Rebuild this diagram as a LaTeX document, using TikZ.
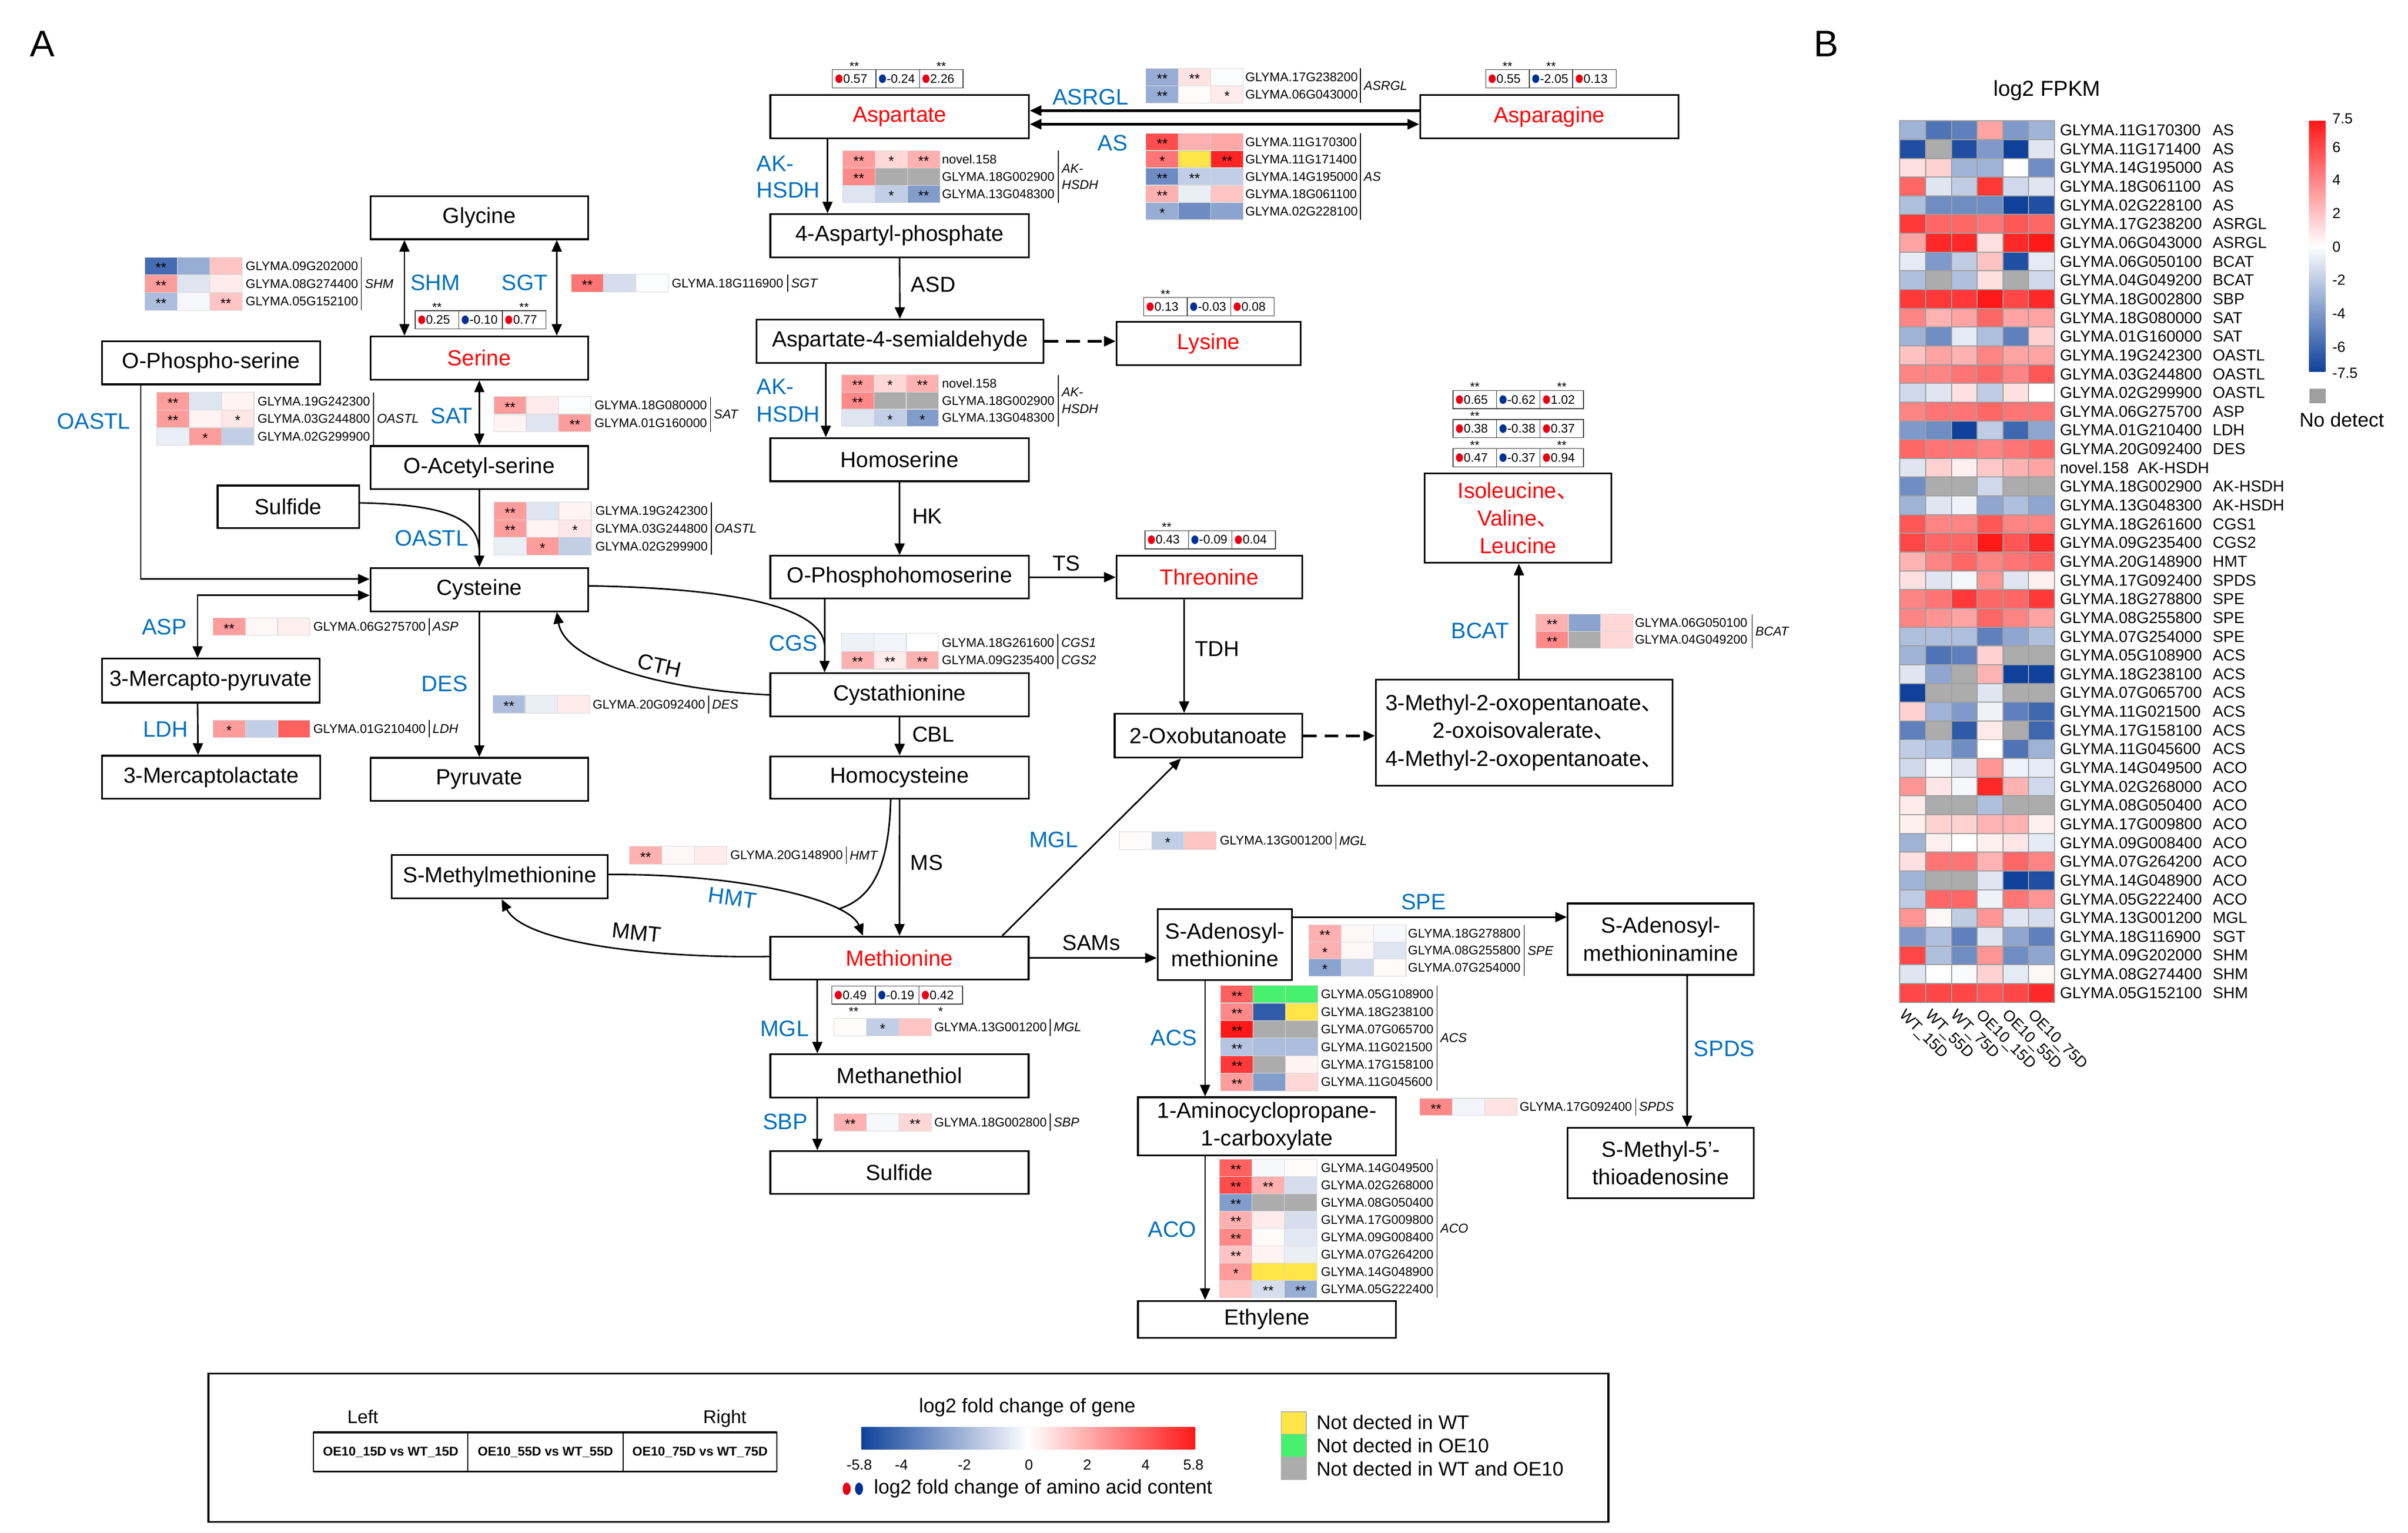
\documentclass[tikz,border=0pt]{standalone}
\usepackage{fontspec}
\setmainfont{Liberation Sans}
\newfontfamily\cjkf{Noto Sans CJK SC}
\usetikzlibrary{arrows.meta,calc}
\definecolor{hmred}{RGB}{255,25,25}
\definecolor{hmblue}{RGB}{15,65,155}
\definecolor{nagray}{RGB}{172,172,172}
\definecolor{ylw}{RGB}{255,229,72}
\definecolor{grn}{RGB}{72,240,112}
\definecolor{enz}{RGB}{0,112,192}
\definecolor{metred}{RGB}{255,0,0}
\definecolor{dotred}{RGB}{235,0,20}
\definecolor{dotblue}{RGB}{0,50,150}

\newcommand\setcol[2]{%
  \pgfmathsetmacro\hmv{#1}%
  \ifdim\hmv pt>98.5pt \def\hmcol{nagray}%
  \else\ifdim\hmv pt>97.5pt \def\hmcol{ylw}%
  \else\ifdim\hmv pt>96.5pt \def\hmcol{grn}%
  \else\ifdim\hmv pt<0pt
    \pgfmathsetmacro\hmp{min(100,-\hmv/#2*100)}\edef\hmcol{hmblue!\hmp!white}%
  \else
    \pgfmathsetmacro\hmp{min(100,\hmv/#2*100)}\edef\hmcol{hmred!\hmp!white}%
  \fi\fi\fi\fi}

\tikzset{
 met/.style={draw, line width=1.1pt, inner sep=0pt, align=center, font=\fontsize{14.2}{18}\selectfont},
 enzl/.style={text=enz, inner sep=0pt, font=\fontsize{14.5}{15}\selectfont},
 blk/.style={inner sep=0pt, font=\fontsize{14}{15}\selectfont},
 gene/.style={anchor=west, inner sep=0pt, font=\fontsize{8.15}{8.5}\selectfont},
 grp/.style={anchor=west, inner sep=0pt, align=left, font=\fontsize{8.3}{10.7}\selectfont\itshape},
 star/.style={anchor=base, inner sep=0pt, font=\fontsize{9}{9}\selectfont},
 sstar/.style={anchor=base, inner sep=0pt, font=\fontsize{8}{8}\selectfont},
 arr/.style={line width=1pt, -{Triangle[length=7.5pt,width=6.5pt]}},
 darr/.style={line width=1pt, {Triangle[length=7.5pt,width=6.5pt]}-{Triangle[length=7.5pt,width=6.5pt]}},
 dsh/.style={line width=1.6pt, dash pattern=on 9pt off 5pt, -{Triangle[length=7.5pt,width=6.5pt]}},
 hgene/.style={anchor=west, inner sep=0pt, font=\fontsize{10.3}{11}\selectfont},
}

% one mini heatmap cell: x, ytop, h, value, stars
\newcommand\hmcellm[5]{%
  \setcol{#4}{5.8}%
  \filldraw[fill=\hmcol, draw=black!15, line width=0.4pt] (#1,#2) rectangle ++(21,#3);
  \node[star] at ({#1+10.5},{#2+#3/2+4.3}) {#5};}
% mini heatmap: x, ytop, rowh, rows
\newcommand\mhm[4]{%
  \foreach \vA/\sA/\vB/\sB/\vC/\sC [count=\rr from 0] in {#4}{%
    \pgfmathsetmacro\ry{#2+#3*\rr}%
    \hmcellm{#1}{\ry}{#3}{\vA}{\sA}%
    \hmcellm{#1+21}{\ry}{#3}{\vB}{\sB}%
    \hmcellm{#1+42}{\ry}{#3}{\vC}{\sC}%
  }}
% gene labels: x, ytop, rowh, nrows, names, barx, group
\newcommand\glab[7]{%
  \foreach \gname [count=\gr from 0] in {#5}{\node[gene] at (#1,{#2+#3*\gr+#3/2}) {\gname};}%
  \draw[line width=0.5pt] (#6,#2) -- (#6,{#2+#3*#4});%
  \node[grp] at ({#6+2},{#2+#3*#4/2}) {#7};}
% amino acid value box: x, ytop, v1, v2, v3, s1, s2, s3, star baseline
\newcommand\aab[9]{%
  \foreach \aval/\acol/\astar [count=\ai from 0] in {#3/dotred/{#6},#4/dotblue/{#7},#5/dotred/{#8}}{%
    \draw[line width=0.5pt, draw=black!75] ({#1+28.2*\ai},#2) rectangle ++(28.2,11.8);
    \fill[\acol] ({#1+28.2*\ai+4.2},{#2+5.9}) circle [x radius=2.3, y radius=2.8];
    \node[anchor=west, inner sep=0pt, font=\fontsize{8}{8}\selectfont] at ({#1+28.2*\ai+6.8},{#2+5.9}) {\aval};
    \node[sstar] at ({#1+28.2*\ai+14.1},#9) {\astar};
  }}

\begin{document}
\begin{tikzpicture}[x=1pt,y=-1pt]
\useasboundingbox (0,0) rectangle (1560,993.2);

\node[inner sep=0pt, font=\fontsize{24}{24}\selectfont] (labA) at (27.6,28.5) {A};
\node[inner sep=0pt, font=\fontsize{24}{24}\selectfont] (labB) at (1183,28.5) {B};

% ---------------- metabolites ----------------
\node[met, minimum width=141pt, minimum height=28pt] (gly) at (310.5,141) {Glycine};
\node[met, minimum width=141pt, minimum height=28pt, text=metred] (ser) at (310.5,232) {Serine};
\node[met, minimum width=141.5pt, minimum height=28pt] (ops) at (136.8,235) {O-Phospho-serine};
\node[met, minimum width=141pt, minimum height=28pt] (oas) at (310.5,303) {O-Acetyl-serine};
\node[met, minimum width=91.6pt, minimum height=27.6pt] (sul1) at (186.8,328.4) {Sulfide};
\node[met, minimum width=141pt, minimum height=28pt] (cys) at (310.5,382) {Cysteine};
\node[met, minimum width=141pt, minimum height=28.5pt] (mpy) at (136.5,441) {3-Mercapto-pyruvate};
\node[met, minimum width=141.5pt, minimum height=28pt] (mlac) at (136.8,503.6) {3-Mercaptolactate};
\node[met, minimum width=141pt, minimum height=28pt] (pyr) at (310.5,505) {Pyruvate};

\node[met, minimum width=167.5pt, minimum height=28pt, text=metred] (asp) at (582.8,75.5) {Aspartate};
\node[met, minimum width=167.5pt, minimum height=28pt, text=metred] (asn) at (1003.7,75.7) {Asparagine};
\node[met, minimum width=167.5pt, minimum height=28pt] (aph) at (582.8,152.7) {4-Aspartyl-phosphate};
\node[met, minimum width=186pt, minimum height=28pt] (asa) at (583,221.1) {Aspartate-4-semialdehyde};
\node[met, minimum width=119.4pt, minimum height=28pt, text=metred] (lys) at (783,222.6) {Lysine};
\node[met, minimum width=167.5pt, minimum height=28pt] (hse) at (582.8,297.8) {Homoserine};
\node[met, minimum width=167.5pt, minimum height=27.7pt] (oph) at (582.8,374) {O-Phosphohomoserine};
\node[met, minimum width=120.2pt, minimum height=27.7pt, text=metred] (thr) at (783.4,374) {Threonine};
\node[met, minimum width=167.5pt, minimum height=28pt] (cth) at (582.8,450.2) {Cystathionine};
\node[met, minimum width=167.5pt, minimum height=27.4pt] (hcy) at (582.8,503.7) {Homocysteine};
\node[met, minimum width=121.4pt, minimum height=28.5pt] (oxb) at (782.8,476.7) {2-Oxobutanoate};
\node[met, minimum width=192.3pt, minimum height=68.7pt] (mop) at (987.5,474.6)
  {3-Methyl-2-oxopentanoate{\cjkf 、}\\2-oxoisovalerate{\cjkf 、}\\4-Methyl-2-oxopentanoate{\cjkf 、}};
\node[met, minimum width=121pt, minimum height=58pt, text=metred] (ile) at (983.5,335.7)
  {Isoleucine{\cjkf 、}\\Valine{\cjkf 、}\\Leucine};
\node[met, minimum width=140pt, minimum height=28pt] (smm) at (323.7,568.1) {S-Methylmethionine};
\node[met, minimum width=167.3pt, minimum height=27.8pt, text=metred] (met) at (582.7,620.7) {Methionine};
\node[met, minimum width=167.3pt, minimum height=27.9pt] (mth) at (582.7,697) {Methanethiol};
\node[met, minimum width=167.3pt, minimum height=27.8pt] (sul2) at (582.7,759.7) {Sulfide};
\node[met, minimum width=87.1pt, minimum height=46pt] (sam) at (793.5,612.1) {S-Adenosyl-\\methionine};
\node[met, minimum width=120.6pt, minimum height=46.3pt] (samine) at (1075.9,608.5) {S-Adenosyl-\\methioninamine};
\node[met, minimum width=167.2pt, minimum height=37.6pt] (acc) at (820.8,729.7) {1-Aminocyclopropane-\\1-carboxylate};
\node[met, minimum width=120.6pt, minimum height=45.6pt] (mta) at (1075.9,753.6) {S-Methyl-5’-\\thioadenosine};
\node[met, minimum width=167.2pt, minimum height=24pt] (eth) at (820.8,854.8) {Ethylene};

% ---------------- connectors ----------------
\draw[darr] ([xshift=-48.5pt]gly.south) -- ([xshift=-48.5pt]ser.north);
\draw[darr] ([xshift=50.2pt]gly.south) -- ([xshift=50.2pt]ser.north);
\draw[darr] (ser.south) -- (oas.north);
\draw[arr] (oas.south) -- (cys.north);
\coordinate (sulj) at (310.5,356);
\draw[line width=1pt] ([yshift=2.6pt]sul1.east) .. controls (290,327) and (309,336) .. (sulj);
\draw[arr] ([xshift=-45.6pt]ops.south) |- ([yshift=6.8pt]cys.west);
\draw[darr] ([yshift=-3.7pt]cys.west) -| ([xshift=-8.5pt]mpy.north);
\draw[arr] ([xshift=-8.5pt]mpy.south) -- ([xshift=-8.5pt]mlac.north);
\draw[arr] (cys.south) -- (pyr.north);
\draw[arr] (cth.west) .. controls (430,447) and (366,429) .. ([xshift=50.2pt]cys.south);
\coordinate (cgsj) at (534.2,418);
\draw[line width=1pt] ([yshift=2.4pt]cys.east) .. controls (470,381) and (532,392) .. (cgsj);
\draw[arr] ([xshift=-48.6pt]oph.south) -- ([xshift=-48.6pt]cth.north);
\draw[arr] ([xshift=-46.7pt]asp.south) -- ([xshift=-46.7pt]aph.north);
\draw[arr] (aph.south) -- (asa.north);
\draw[dsh] (asa.east) -- (asa.east -| lys.west);
\draw[arr] ([xshift=-48pt]asa.south) -- ([xshift=-47.8pt]hse.north);
\draw[arr] (hse.south) -- (oph.north);
\draw[arr] (oph.east) -- (thr.west);
\draw[arr] ([xshift=-16.3pt]thr.south) -- ([xshift=-15.7pt]oxb.north);
\draw[dsh] (oxb.east) -- (oxb.east -| mop.west);
\draw[arr] ([xshift=-3.5pt]mop.north) -- ([xshift=0.5pt]ile.south);
\draw[arr, line width=1.6pt] ([yshift=4pt]asn.west) -- ([yshift=4pt]asn.west -| asp.east);
\draw[darr, line width=1.6pt] ([yshift=-5pt]asp.east) -- ([yshift=-5pt]asp.east -| asn.west);
\draw[arr] (cth.south) -- (hcy.north);
\draw[arr] (hcy.south) -- (met.north);
\coordinate (hmtj) at (543,589);
\draw[line width=1pt] ([xshift=-5.8pt]hcy.south) .. controls (576,560) and (566,582) .. (hmtj);
\draw[arr] ([yshift=1.5pt]smm.east) .. controls (480,566) and (550,583) .. ([xshift=-23.7pt]met.north);
\draw[arr] ([yshift=1pt]met.west) .. controls (430,621) and (340,612) .. ([xshift=1.3pt]smm.south);
\draw[arr] ([xshift=66.6pt]met.north) -- ([xshift=-17.8pt]oxb.south);
\draw[arr] (met.east) -- (met.east -| sam.west);
\draw[arr] ([xshift=-53.2pt]met.south) -- ([xshift=-53.2pt]mth.north);
\draw[arr] ([xshift=-53.2pt]mth.south) -- ([xshift=-53.2pt]sul2.north);
\draw[arr] ([yshift=17.9pt]sam.east) -- ([yshift=17.9pt]sam.east -| samine.west);
\draw[arr] ([xshift=-12.8pt]sam.south) -- ([xshift=-40.1pt]acc.north);
\draw[arr] ([xshift=-40.1pt]acc.south) -- ([xshift=-40.1pt]eth.north);
\draw[arr] ([xshift=17.1pt]samine.south) -- ([xshift=17.1pt]mta.north);

% ---------------- enzyme labels ----------------
\node[enzl] (eSHM) at (282,183) {SHM};
\node[enzl] (eSGT) at (340,183) {SGT};
\node[enzl] (eOASTLa) at (60.7,273) {OASTL};
\node[enzl] (eSAT) at (292.6,269.5) {SAT};
\node[enzl] (eOASTLb) at (279.6,348.7) {OASTL};
\node[enzl] (eASP) at (106.4,406.3) {ASP};
\node[enzl] (eLDH) at (107.4,472.4) {LDH};
\node[enzl] (eDES) at (288,442.9) {DES};
\node[enzl] (eASRGL) at (706.4,62.7) {ASRGL};
\node[enzl] (eAS) at (720.9,92.7) {AS};
\node[enzl, anchor=west] (eAKa) at (490,105.9) {AK-};
\node[enzl, anchor=west] (eHSa) at (490,123.3) {HSDH};
\node[enzl, anchor=west] (eAKb) at (490,250.4) {AK-};
\node[enzl, anchor=west] (eHSb) at (490,268.3) {HSDH};
\node[enzl] (eCGS) at (513.8,416.8) {CGS};
\node[enzl] (eBCAT) at (958.9,408.8) {BCAT};
\node[enzl] (eMGLa) at (682.6,544) {MGL};
\node[enzl, rotate=-8] (eHMT) at (474.5,581.7) {HMT};
\node[enzl] (eMGLb) at (508.3,666.3) {MGL};
\node[enzl] (eSBP) at (508.8,726.9) {SBP};
\node[enzl] (eSPE) at (922.3,584.4) {SPE};
\node[enzl] (eACS) at (760.4,672.3) {ACS};
\node[enzl] (eACO) at (759.4,796.5) {ACO};
\node[enzl] (eSPDS) at (1117.1,679.6) {SPDS};

\node[blk] (lASD) at (604.6,184.4) {ASD};
\node[blk] (lHK) at (600.7,334.5) {HK};
\node[blk] (lTS) at (690.8,365) {TS};
\node[blk] (lTDH) at (788.6,420.4) {TDH};
\node[blk] (lCBL) at (604.6,475.9) {CBL};
\node[blk, rotate=-13] (lCTH) at (427.2,431.3) {CTH};
\node[blk] (lMS) at (600.4,558.8) {MS};
\node[blk, rotate=-6] (lMMT) at (412.5,604.3) {MMT};
\node[blk] (lSAMs) at (707,611) {SAMs};

% ---------------- mini heatmaps ----------------
\mhm{93.8}{166.7}{11.43}{-4.5/**/-2.5/{}/1.5/{}, 2.5/**/-0.8/{}/0.5/{}, -2/**/-0.2/{}/1.5/**}
\glab{159}{166.7}{11.43}{3}{GLYMA.09G202000,GLYMA.08G274400,GLYMA.05G152100}{234.2}{SHM}
\mhm{370}{177.7}{11.5}{3.5/**/-1/{}/-0.1/{}}
\glab{435}{177.7}{11.5}{1}{GLYMA.18G116900}{510.3}{SGT}
\mhm{101.5}{254.2}{11.43}{2.5/**/-0.8/{}/0.3/{}, 2.5/**/0.3/{}/0.6/*, -0.5/{}/2.5/*/-1.5/{}}
\glab{166.7}{254.2}{11.43}{3}{GLYMA.19G242300,GLYMA.03G244800,GLYMA.02G299900}{242}{OASTL}
\mhm{319.9}{256.9}{11.4}{2.5/**/0.5/{}/-0.1/{}, 0.3/{}/-0.8/{}/2.5/**}
\glab{385}{256.9}{11.4}{2}{GLYMA.18G080000,GLYMA.01G160000}{460.3}{SAT}
\mhm{320}{325.3}{11.43}{2.5/**/-0.8/{}/0.3/{}, 2.5/**/0.3/{}/0.6/*, -0.5/{}/2.5/*/-1.5/{}}
\glab{385.5}{325.3}{11.43}{3}{GLYMA.19G242300,GLYMA.03G244800,GLYMA.02G299900}{460.8}{OASTL}
\mhm{137.9}{400.4}{11.3}{2.5/**/0.2/{}/0.4/{}}
\glab{202.8}{400.4}{11.3}{1}{GLYMA.06G275700}{278.1}{ASP}
\mhm{137.9}{466.5}{11.3}{2.5/*/-1.5/{}/4/{}}
\glab{202.8}{466.5}{11.3}{1}{GLYMA.01G210400}{278.1}{LDH}
\mhm{319.2}{450.6}{11.5}{-2/**/-0.5/{}/0.5/{}}
\glab{383.8}{450.6}{11.5}{1}{GLYMA.20G092400}{459.1}{DES}
\mhm{742.4}{44.3}{11.25}{-2.5/**/0.7/**/-0.1/{}, -2.5/**/0.1/{}/0.5/*}
\glab{806.6}{44.3}{11.25}{2}{GLYMA.17G238200,GLYMA.06G043000}{881.4}{ASRGL}
\mhm{742.4}{86.3}{11.22}{4.5/**/2/{}/2.2/{}, 3.5/*/98/{}/5.5/**, -3.5/**/-1.5/**/-1.5/{}, 2/**/-0.5/{}/1.5/{}, -2.5/*/-3.5/{}/-2.8/{}}
\glab{806.6}{86.3}{11.22}{5}{GLYMA.11G170300,GLYMA.11G171400,GLYMA.14G195000,GLYMA.18G061100,GLYMA.02G228100}{881.4}{AS}
\mhm{545.9}{97.6}{11.27}{2.5/**/1/*/2/**, 3/**/99/{}/99/{}, -0.8/{}/-1.5/*/-3/**}
\glab{610.1}{97.6}{11.27}{3}{novel.158,GLYMA.18G002900,GLYMA.13G048300}{685.7}{AK-\\HSDH}
\mhm{545.1}{242.9}{11.13}{2.5/**/1/*/2/**, 3/**/99/{}/99/{}, -0.8/{}/-1.5/*/-3/*}
\glab{610.1}{242.9}{11.13}{3}{novel.158,GLYMA.18G002900,GLYMA.13G048300}{685.7}{AK-\\HSDH}
\mhm{545.1}{410.6}{11.45}{-0.4/{}/-0.3/{}/0/{}, 2/**/0.5/**/2/**}
\glab{610}{410.6}{11.45}{2}{GLYMA.18G261600,GLYMA.09G235400}{685.3}{}
\node[grp] (gCGS1) at (687.3,416.3) {CGS1};
\node[grp] (gCGS2) at (687.3,427.8) {CGS2};
\mhm{995}{398}{11}{2/**/-2.8/{}/1/{}, 3/**/99/{}/1/{}}
\glab{1059}{398}{11}{2}{GLYMA.06G050100,GLYMA.04G049200}{1135}{BCAT}
\mhm{407.8}{548.4}{11.4}{2/**/0.2/{}/0.5/{}}
\glab{473}{548.4}{11.4}{1}{GLYMA.20G148900}{548.3}{HMT}
\mhm{725}{538.9}{11.5}{0.1/{}/-1.5/*/1.5/{}}
\glab{790.1}{538.9}{11.5}{1}{GLYMA.13G001200}{865.4}{MGL}
\mhm{540.3}{659.9}{11.3}{0.1/{}/-1.5/*/1.5/{}}
\glab{605.1}{659.9}{11.3}{1}{GLYMA.13G001200}{680.4}{MGL}
\mhm{540.3}{721.5}{11.3}{2/**/-0.2/{}/1/**}
\glab{605.1}{721.5}{11.3}{1}{GLYMA.18G002800}{680.4}{SBP}
\mhm{847.8}{599.2}{11.07}{2/**/0.2/{}/-0.2/{}, 2/*/0.2/{}/-0.8/{}, -2.8/*/-1.2/{}/0.1/{}}
\glab{912}{599.2}{11.07}{3}{GLYMA.18G278800,GLYMA.08G255800,GLYMA.07G254000}{987.5}{SPE}
\mhm{790.8}{638.5}{11.37}{4/**/97/{}/97/{}, 3/**/-5/{}/98/{}, 5.8/**/99/{}/99/{}, -1.8/**/-2/{}/-2/{}, 5/**/99/{}/0.3/{}, 2.5/**/-3/{}/1/{}}
\glab{855.6}{638.5}{11.37}{6}{GLYMA.05G108900,GLYMA.18G238100,GLYMA.07G065700,GLYMA.11G021500,GLYMA.17G158100,GLYMA.11G045600}{931}{ACS}
\mhm{919.8}{711.6}{11.1}{3/**/-0.3/{}/0.7/{}}
\glab{984.3}{711.6}{11.1}{1}{GLYMA.17G092400}{1059.6}{SPDS}
\mhm{790.1}{751}{11.22}{4/**/-0.2/{}/0.1/{}, 4.5/**/2/**/-1/{}, -3/**/99/{}/99/{}, 2/**/0.5/{}/-1/{}, 3/**/0.1/{}/-0.7/{}, 1.5/**/0.3/{}/-0.5/{}, 2.5/*/98/{}/98/{}, 1.5/{}/-1/**/-2.5/**}
\glab{855.6}{751}{11.22}{8}{GLYMA.14G049500,GLYMA.02G268000,GLYMA.08G050400,GLYMA.17G009800,GLYMA.09G008400,GLYMA.07G264200,GLYMA.14G048900,GLYMA.05G222400}{931}{ACO}

% ---------------- amino acid values ----------------
\aab{269}{201.3}{0.25}{-0.10}{0.77}{**}{}{**}{201.8}
\aab{539.3}{45.1}{0.57}{-0.24}{2.26}{**}{}{**}{45.6}
\aab{962.5}{45.1}{0.55}{-2.05}{0.13}{**}{**}{}{45.6}
\aab{740.9}{192.8}{0.13}{-0.03}{0.08}{**}{}{}{193.3}
\aab{741.7}{343.8}{0.43}{-0.09}{0.04}{**}{}{}{344.3}
\aab{941.3}{253}{0.65}{-0.62}{1.02}{**}{}{**}{253.5}
\aab{941.3}{271.8}{0.38}{-0.38}{0.37}{**}{}{}{272.3}
\aab{941.3}{290.6}{0.47}{-0.37}{0.94}{**}{}{**}{291.1}
\aab{538.9}{638.8}{0.49}{-0.19}{0.42}{**}{}{*}{658.2}

% ---------------- legend ----------------
\draw[line width=1.2pt] (135,890) rectangle (1042,986);
\node[inner sep=0pt, font=\fontsize{12}{12}\selectfont] (lgL) at (235,918) {Left};
\node[inner sep=0pt, font=\fontsize{12}{12}\selectfont] (lgR) at (469.5,919) {Right};
\draw[line width=0.6pt] (203.1,928) rectangle (503.2,953.4);
\draw[line width=1.2pt] (203.1,928) -- (503.2,928) (203.1,953.4) -- (503.2,953.4);
\draw[line width=0.6pt] (303.1,928) -- (303.1,953.4) (403.7,928) -- (403.7,953.4);
\node[inner sep=0pt, font=\bfseries\fontsize{8.3}{9}\selectfont] (lg1) at (253.1,940.7) {OE10\_15D vs WT\_15D};
\node[inner sep=0pt, font=\bfseries\fontsize{8.3}{9}\selectfont] (lg2) at (353.4,940.7) {OE10\_55D vs WT\_55D};
\node[inner sep=0pt, font=\bfseries\fontsize{8.3}{9}\selectfont] (lg3) at (453.5,940.7) {OE10\_75D vs WT\_75D};
\node[inner sep=0pt, font=\fontsize{12.8}{13}\selectfont] (lgT) at (665.5,912) {log2 fold change of gene};
\shade[left color=hmblue, right color=white] (557.9,924.6) rectangle (666,939.2);
\shade[left color=white, right color=hmred] (666,924.6) rectangle (774.2,939.2);
\foreach \tv/\tx [count=\ti] in {-5.8/556.7,-4/584,-2/624.8,0/666.6,2/704.4,4/742.2,5.8/773.1}
  \node[inner sep=0pt, font=\fontsize{9.5}{10}\selectfont] (tk\ti) at (\tx,949) {\tv};
\fill[dotred] (548.5,964.6) circle [x radius=2.6, y radius=4];
\fill[dotblue] (556.5,964.6) circle [x radius=2.6, y radius=4];
\node[anchor=west, inner sep=0pt, font=\fontsize{12.8}{13}\selectfont] (lgAA) at (566,964.6) {log2 fold change of amino acid content};
\filldraw[fill=ylw, draw=gray!60, line width=0.5pt] (830,914.6) rectangle (846.3,929.3);
\filldraw[fill=grn, draw=gray!60, line width=0.5pt] (830,929.3) rectangle (846.3,944);
\filldraw[fill=nagray, draw=gray!60, line width=0.5pt] (830,944) rectangle (846.3,958.7);
\node[anchor=west, inner sep=0pt, font=\fontsize{12.8}{13}\selectfont] (lgY) at (852.7,921.5) {Not dected in WT};
\node[anchor=west, inner sep=0pt, font=\fontsize{12.8}{13}\selectfont] (lgG) at (852.7,936.5) {Not dected in OE10};
\node[anchor=west, inner sep=0pt, font=\fontsize{12.8}{13}\selectfont] (lgN) at (852.7,951.5) {Not dected in WT and OE10};

% ---------------- panel B heatmap ----------------
\node[inner sep=0pt, font=\fontsize{14}{14}\selectfont] (fpkm) at (1326.2,58.6) {log2 FPKM};
\foreach \gn/\gl/\hA/\hB/\hC/\hD/\hE/\hF [count=\hi from 0] in {
GLYMA.11G170300/AS/-3/-5.5/-5/3/-4/-3,
GLYMA.11G171400/AS/-7/99/-7/-4/-7.5/-1,
GLYMA.14G195000/AS/1/1.5/-3/-3/0/-4.5,
GLYMA.18G061100/AS/5/-1/-2/6.5/-1.5/-1,
GLYMA.02G228100/AS/-2.5/-4.5/-4.5/-4.5/-7.5/-7,
GLYMA.17G238200/ASRGL/6.5/5/5/4.5/5.5/5,
GLYMA.06G043000/ASRGL/3/7/7/1/7/7.5,
GLYMA.06G050100/BCAT/-0.8/-4/-2/2/-7/-0.8,
GLYMA.04G049200/BCAT/-2.5/99/-2.5/1/99/-1.5,
GLYMA.18G002800/SBP/6.5/6.5/6.5/7.5/6/7,
GLYMA.18G080000/SAT/4/2.5/3/5/3/3,
GLYMA.01G160000/SAT/-3/-4.5/-0.8/-2.5/-5/1.5,
GLYMA.19G242300/OASTL/2/3/2.5/4/3/3,
GLYMA.03G244800/OASTL/4/4/4.5/5/4/5.5,
GLYMA.02G299900/OASTL/-1.5/-1/1/-2/1/0,
GLYMA.06G275700/ASP/4/4.5/4.5/5/4.5/4.5,
GLYMA.01G210400/LDH/-4/-4.5/-7.5/-2/-6/-3.5,
GLYMA.20G092400/DES/5/4.5/4.5/4/4.5/5,
novel.158~~AK-HSDH/{}/-1/1.5/0.5/1.8/2.5/3,
GLYMA.18G002900/AK-HSDH/-4.5/99/99/-1.5/99/99,
GLYMA.13G048300/AK-HSDH/-3/-1/-0.5/-3.5/-2.5/-3.5,
GLYMA.18G261600/CGS1/5.5/4/4/5.5/4/4,
GLYMA.09G235400/CGS2/6/5/5/7.5/5.5/7,
GLYMA.20G148900/HMT/2.5/4/5/4/4.5/5,
GLYMA.17G092400/SPDS/1/-1/-0.3/3.5/-1/0.5,
GLYMA.18G278800/SPE/4/4.5/6.5/5/5/6.5,
GLYMA.08G255800/SPE/4/3.5/3/5/4/3,
GLYMA.07G254000/SPE/-2.5/-2.5/-2.5/-5/-3.5/-2.5,
GLYMA.05G108900/ACS/-3/-5.5/-5/1.5/99/99,
GLYMA.18G238100/ACS/-1/-3.5/99/2.5/-7.5/-7.5,
GLYMA.07G065700/ACS/-7.5/99/99/-1/99/99,
GLYMA.11G021500/ACS/1.5/-3/-4/-0.5/-5/-6,
GLYMA.17G158100/ACS/-5/99/-6.5/0.7/99/-6,
GLYMA.11G045600/ACS/-2/-2.5/-4.5/0/-5.5/-3,
GLYMA.14G049500/ACO/-1.5/-0.3/-1/3.5/-0.5/-0.8,
GLYMA.02G268000/ACO/3.5/0.8/-0.3/7/2.5/-1.5,
GLYMA.08G050400/ACO/0.7/99/99/-2.5/99/99,
GLYMA.17G009800/ACO/0.5/1.5/1.5/2.5/2.5/0.5,
GLYMA.09G008400/ACO/-3/0.5/0/0.5/0.8/-0.8,
GLYMA.07G264200/ACO/1/4.5/4.5/2.5/5/4,
GLYMA.14G048900/ACO/-3/99/99/-1/-7.5/-7,
GLYMA.05G222400/ACO/-2/5/5/-0.5/4.5/3.5,
GLYMA.13G001200/MGL/3.5/0.3/-2/3.5/-1/-1.3,
GLYMA.18G116900/SGT/-4/-2.5/-5/-1/-3.5/-5,
GLYMA.09G202000/SHM/6/-2.5/-4.5/3.5/-4.5/-3.5,
GLYMA.08G274400/SHM/-1/0/-0.2/1.5/-0.8/0.3,
GLYMA.05G152100/SHM/6/6/6/5.5/6/7}{%
  \foreach \hv [count=\hj from 0] in {\hA,\hB,\hC,\hD,\hE,\hF}{%
    \setcol{\hv}{7.5}%
    \filldraw[fill=\hmcol, draw=gray!75, line width=0.7pt] ({1230.8+16.68*\hj},{78.3+12.15*\hi}) rectangle ++(16.68,12.15);
  }%
  \node[hgene] (hg\hi) at (1334.3,{78.3+12.15*\hi+6.07}) {\gn};
  \node[hgene] (hl\hi) at (1433.3,{78.3+12.15*\hi+6.07}) {\gl};
}
\foreach \ct [count=\cj from 0] in {WT\_15D,WT\_55D,WT\_75D,OE10\_15D,OE10\_55D,OE10\_75D}
  \node[anchor=north west, rotate=-45, inner sep=0pt, font=\fontsize{10}{10}\selectfont] (cl\cj) at ({1235+16.68*\cj},653) {\ct};
\shade[top color=hmred, bottom color=white] (1495.9,78.4) rectangle (1506.5,159.6);
\shade[top color=white, bottom color=hmblue] (1495.9,159.6) rectangle (1506.5,240.8);
\foreach \cv/\cy [count=\ck] in {7.5/76.8,6/95.3,4/116.6,2/138.2,0/159.9,-2/181.4,-4/203.2,-6/224.7,-7.5/241.8}
  \node[anchor=west, inner sep=0pt, font=\fontsize{9.5}{10}\selectfont] (cb\ck) at (1510.8,\cy) {\cv};
\fill[gray!75] (1496,251.9) rectangle (1506.5,261.4);
\node[inner sep=0pt, font=\fontsize{12.8}{13}\selectfont] (nodet) at (1517.1,272) {No detect};
\end{tikzpicture}
\end{document}
